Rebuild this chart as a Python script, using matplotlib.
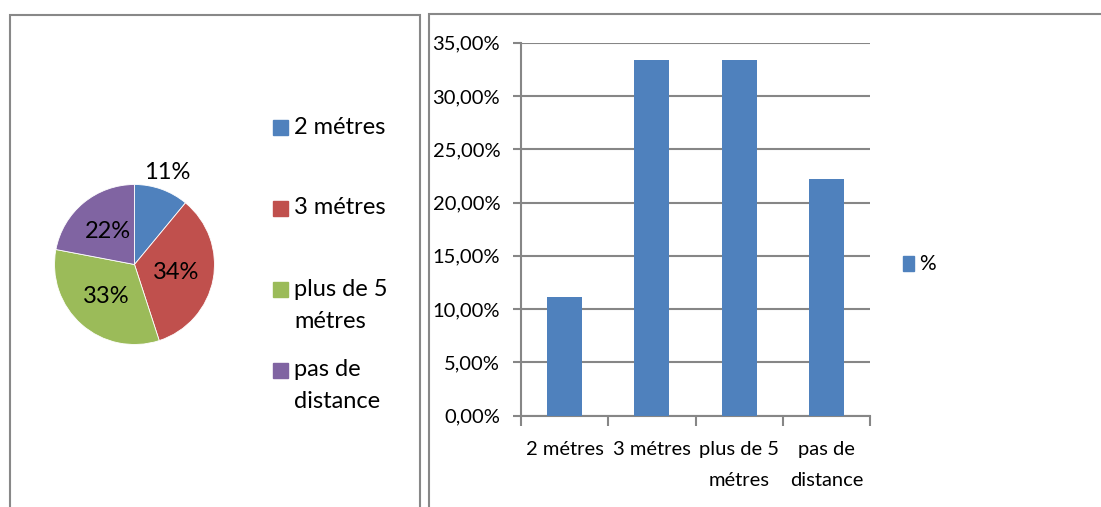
import numpy as np
import matplotlib.pyplot as plt
from matplotlib.patches import Rectangle
from matplotlib.ticker import FuncFormatter

# Données
categories = ['2 métres', '3 métres', 'plus de 5\nmétres', 'pas de\ndistance']
pie_pct = [11, 34, 33, 22]
bar_pct = [11.11, 33.33, 33.33, 22.22]
colors = ['#4F81BD', '#C0504D', '#9BBB59', '#8064A2']
bar_color = '#4F81BD'
grid_color = '#868686'

plt.rcParams['font.family'] = ['Lato', 'DejaVu Sans']
W, H = 1101, 507
fig = plt.figure(figsize=(W / 100, H / 100), dpi=100)


def px_axes(x0, y0, x1, y1):
    # axes à partir de coordonnées pixel (origine en haut à gauche)
    return fig.add_axes([x0 / W, 1 - y1 / H, (x1 - x0) / W, (y1 - y0) / H])


# Cadres des deux graphiques
fig.add_artist(Rectangle((9.5 / W, -0.1), (410.5) / W, 1.1 - 14.5 / H,
                         transform=fig.transFigure, fill=False,
                         edgecolor='#888888', lw=1.5))
fig.add_artist(Rectangle((429 / W, -0.1), 1.0, 1.1 - 13.5 / H,
                         transform=fig.transFigure, fill=False,
                         edgecolor='#888888', lw=1.5))

# ---- Camembert ----
ax1 = px_axes(54.5, 184.5, 214.5, 344.5)
wedges, texts = ax1.pie(pie_pct, colors=colors, startangle=90, counterclock=False,
                        radius=1, wedgeprops=dict(linewidth=0.6, edgecolor='white'))
for i, w in enumerate(wedges):
    mid = np.deg2rad((w.theta1 + w.theta2) / 2)
    r = 1.22 if i == 0 else 0.53
    ax1.text(r * np.cos(mid), r * np.sin(mid), f'{pie_pct[i]}%',
             ha='center', va='center', fontsize=17)
ax1.set_xlim(-1, 1)
ax1.set_ylim(-1, 1)
ax1.axis('off')

# légende du camembert
leg_y = [[128], [208], [289, 322], [370, 402]]
for i, lab in enumerate(categories):
    ys = leg_y[i]
    fig.patches.append(Rectangle((273 / W, 1 - (ys[0] + 7.5) / H), 15 / W, 15 / H,
                                 transform=fig.transFigure, color=colors[i]))
    for line, y in zip(lab.split('\n'), ys):
        fig.text(294 / W, 1 - y / H, line, ha='left', va='center', fontsize=17)

# ---- Histogramme ----
ax2 = px_axes(521, 42.7, 870, 415.7)
x = np.arange(len(categories))
ax2.bar(x, bar_pct, width=0.4, color=bar_color, zorder=3)
ax2.set_xlim(-0.5, len(categories) - 0.5)
ax2.set_ylim(0, 35)
ax2.set_yticks(np.arange(0, 36, 5))
ax2.yaxis.set_major_formatter(FuncFormatter(lambda v, p: f'{v:.2f}%'.replace('.', ',')))
ax2.grid(axis='y', color=grid_color, lw=1.5, zorder=0)
ax2.set_xticks(x)
ax2.set_xticklabels(categories, fontsize=14.5, linespacing=2.05)
ax2.set_xticks(np.arange(-0.5, len(categories)), minor=True)
ax2.tick_params(axis='x', which='major', length=0, pad=18)
ax2.tick_params(axis='x', which='minor', length=7, color=grid_color, width=1.5)
ax2.tick_params(axis='y', length=6, color=grid_color, width=1.5, labelsize=14.5, pad=9)
for s in ['top', 'right']:
    ax2.spines[s].set_visible(False)
for s in ['left', 'bottom']:
    ax2.spines[s].set_color(grid_color)
    ax2.spines[s].set_linewidth(1.5)

# légende de l'histogramme
fig.patches.append(Rectangle((903 / W, 1 - 271 / H), 11 / W, 15 / H,
                             transform=fig.transFigure, color=bar_color))
fig.text(919 / W, 1 - 264 / H, '%', ha='left', va='center', fontsize=15)

fig.savefig('out.png', dpi=100, facecolor='white')
